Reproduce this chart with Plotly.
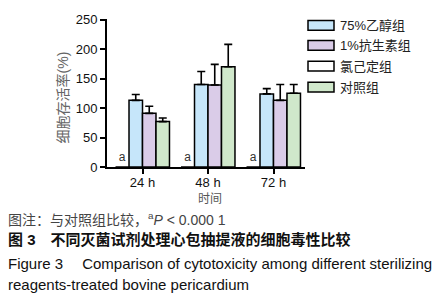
import plotly.graph_objects as go

# ---- data ----
times = ["24 h", "48 h", "72 h"]
series_names = ["氯己定组", "75%乙醇组", "1%抗生素组", "对照组"]
chlorhexidine = [0, 0, 0]
ethanol75 = [113, 140, 124]
ethanol75_sd = [10, 22, 9]
antibiotic1 = [91, 139, 113]
antibiotic1_sd = [12, 35, 27]
control = [77, 170, 125]
control_sd = [6, 38, 15]
sig_labels = ["a", "a", "a"]
legend_order = ["75%乙醇组", "1%抗生素组", "氯己定组", "对照组"]
y_ticks = [0, 50, 100, 150, 200, 250]

colors = {"氯己定组": "#ffffff", "75%乙醇组": "#c6e6fa",
          "1%抗生素组": "#dacce8", "对照组": "#d0e8cb"}

W, H = 439, 300
L, R, T, B = 107, 305, 16, 167
YMAX = 251
def px(x):
    return (x - L) / (R - L)
def py(y):
    return (B - y) / (B - T)

FONT = "Liberation Sans, Arial, Noto Sans CJK SC, sans-serif"
xs = list(range(len(times)))

fig = go.Figure()
values = [chlorhexidine, ethanol75, antibiotic1, control]
sds = [None, ethanol75_sd, antibiotic1_sd, control_sd]
for name, vals, sd in zip(series_names, values, sds):
    kw = {}
    if sd is not None:
        kw["error_y"] = dict(type="data", array=sd, arrayminus=[0]*len(sd),
                             symmetric=False, color="black", thickness=1.6, width=4)
    else:
        kw["text"] = sig_labels
        kw["textposition"] = "outside"
        kw["textfont"] = dict(size=12, color="#333", family=FONT)
        kw["cliponaxis"] = False
    fig.add_trace(go.Bar(x=xs, y=vals, name=name,
                         marker=dict(color=colors[name], line=dict(color="black", width=1.5)),
                         showlegend=False, **kw))

shapes = []
annotations = []
# custom legend
leg_y = [22.5, 43, 64, 85.5]
for name, yc in zip(legend_order, leg_y):
    shapes.append(dict(type="rect", xref="paper", yref="paper",
                       x0=px(308), x1=px(334), y0=py(yc + 5), y1=py(yc - 5),
                       fillcolor=colors[name], line=dict(color="black", width=1.5)))
    annotations.append(dict(xref="paper", yref="paper", x=px(338), y=py(yc),
                            xanchor="left", yanchor="middle", showarrow=False,
                            text=name, font=dict(size=13, color="#222", family=FONT)))

# y title
annotations.append(dict(xref="paper", yref="paper", x=px(63), y=py(96), textangle=-90,
                        xanchor="center", yanchor="middle", showarrow=False,
                        text="细胞存活率(%)", font=dict(size=14, color="#666", family=FONT)))
# x title
annotations.append(dict(xref="paper", yref="paper", x=px(210), y=py(200),
                        xanchor="center", yanchor="middle", showarrow=False,
                        text="时间", font=dict(size=12, color="#555", family=FONT)))
# captions
captions = [
    ("图注：与对照组比较，<sup>a</sup><i>P</i> &lt; 0.000 1", 220, 14, "#444"),
    ("<b>图 3\u3000不同灭菌试剂处理心包抽提液的细胞毒性比较</b>", 241, 15, "#111"),
    ("Figure 3\u2003 Comparison of cytotoxicity among different sterilizing", 265, 15, "#111"),
    ("reagents-treated bovine pericardium", 287, 15, "#111"),
]
for txt, yc, fs, col in captions:
    annotations.append(dict(xref="paper", yref="paper", x=px(6), y=py(yc),
                            xanchor="left", yanchor="middle", showarrow=False,
                            text=txt, font=dict(size=fs, color=col, family=FONT)))

fig.update_layout(
    width=W, height=H,
    margin=dict(l=L, r=W - R, t=T, b=H - B, pad=0),
    paper_bgcolor="white", plot_bgcolor="white",
    barmode="group", bargap=0.176, bargroupgap=0,
    font=dict(family=FONT, size=13, color="#111"),
    shapes=shapes, annotations=annotations,
    xaxis=dict(tickvals=xs, ticktext=times, range=[-0.542, 2.481],
               showline=True, linecolor="black", linewidth=2,
               ticks="outside", ticklen=5, tickwidth=2, tickcolor="black",
               ticklabelstandoff=-3,
               showgrid=False, zeroline=False, tickfont=dict(size=13, color="#111")),
    yaxis=dict(range=[0, YMAX], tickvals=y_ticks, showline=True, linecolor="black", linewidth=2,
               ticks="outside", ticklen=5, tickwidth=2, tickcolor="black",
               showgrid=False, zeroline=False, tickfont=dict(size=13, color="#111")),
)

fig.write_html("out.html", config={"displayModeBar": False},
               post_script="document.body.style.margin='0';document.body.style.padding='0';")
